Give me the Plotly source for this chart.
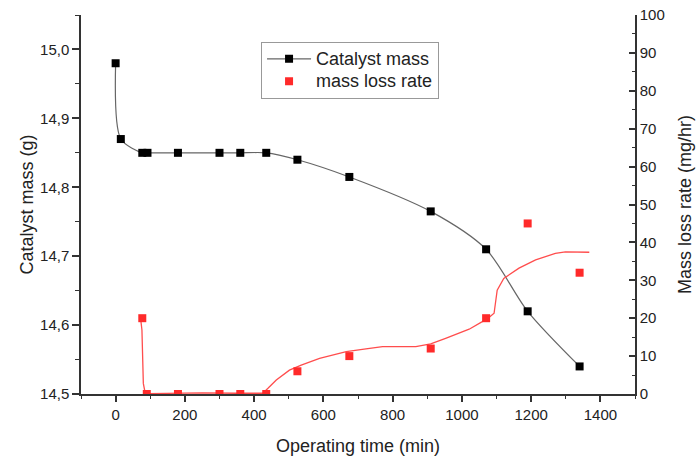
import plotly.graph_objects as go

# Catalyst mass data (left axis)
time_min = [0, 15, 77, 92, 180, 300, 360, 435, 525, 675, 910, 1070, 1190, 1340]
catalyst_mass = [14.98, 14.87, 14.85, 14.85, 14.85, 14.85, 14.85, 14.85, 14.84, 14.815, 14.765, 14.71, 14.62, 14.54]

# Mass loss rate data (right axis)
rate_time = [77, 90, 180, 300, 360, 435, 525, 675, 910, 1070, 1190, 1340]
rate_vals = [20, 0, 0, 0, 0, 0, 6, 10, 12, 20, 45, 32]

# Smoothed red curve
curve_time = [72, 76, 80, 85, 95, 150, 250, 350, 425, 440, 464, 502, 536, 589, 627, 666,
              723, 771, 867, 910, 953, 1021, 1059, 1080, 1093, 1102, 1121, 1165, 1213, 1270, 1299, 1368]
curve_vals = [20, 16.9, 2.8, 0.4, 0.1, 0.2, 0.3, 0.2, 0.2, 1.5, 3.7, 6.3, 7.6, 9.4, 10.3, 11.2,
              11.9, 12.5, 12.5, 13.2, 14.7, 17.1, 19.1, 20.3, 21.3, 27.4, 30.5, 33.2, 35.4, 37.1, 37.5, 37.4]

FONT = "Liberation Sans, Arial, sans-serif"
RED = "#ff2a2a"

fig = go.Figure()

fig.add_trace(go.Scatter(
    x=curve_time, y=curve_vals, yaxis="y2", mode="lines",
    line=dict(color="#ff4d4d", width=1.3), showlegend=False, hoverinfo="skip"))

fig.add_trace(go.Scatter(
    x=time_min, y=catalyst_mass, mode="lines+markers",
    name="<span style='font-size:18px'>Catalyst mass</span>",
    line=dict(color="#666666", width=1.2, shape="spline", smoothing=0.8),
    marker=dict(symbol="square", size=8, color="black")))

fig.add_trace(go.Scatter(
    x=rate_time, y=rate_vals, yaxis="y2", mode="markers",
    name="<span style='font-size:18px'>mass loss rate</span>",
    marker=dict(symbol="square", size=8, color=RED)))

axis_common = dict(showgrid=False, zeroline=False, showline=True, linecolor="#333333",
                   linewidth=1.5, tickcolor="#333333", tickwidth=1.5, automargin=False,
                   ticklabeloverflow="allow",
                   tickfont=dict(family=FONT, size=15, color="#222222"))

fig.update_layout(
    width=699, height=458,
    margin=dict(l=81, r=64, t=15, b=64),
    paper_bgcolor="white", plot_bgcolor="white",
    separators=", ",
    font=dict(family=FONT, color="#222222"),
    xaxis=dict(range=[-100, 1500], dtick=200, tick0=0, ticks="outside", ticklen=6,
               minor=dict(dtick=100, ticks="outside", ticklen=3, tickcolor="#333333", tickwidth=1.2),
               title=dict(text="Operating time (min)", font=dict(family=FONT, size=18), standoff=18),
               **axis_common),
    yaxis=dict(range=[14.5, 15.05], dtick=0.1, tick0=14.5, ticks="outside", ticklen=7,
               tickformat=".1f",
               minor=dict(dtick=0.05, ticks="outside", ticklen=4, tickcolor="#333333", tickwidth=1.2),
               title=dict(text="Catalyst mass (g)", font=dict(family=FONT, size=18), standoff=2),
               **axis_common),
    yaxis2=dict(range=[0, 100], dtick=10, tick0=0, overlaying="y", side="right",
                ticks="inside", ticklen=6,
                minor=dict(dtick=5, ticks="inside", ticklen=3, tickcolor="#333333", tickwidth=1.2),
                title=dict(text="Mass loss rate (mg/hr)", font=dict(family=FONT, size=18), standoff=15),
                **axis_common),
    legend=dict(x=0.325, y=0.93, xanchor="left", yanchor="top",
                bgcolor="white", bordercolor="#999999", borderwidth=1,
                font=dict(family=FONT, size=15, color="#222222"),
                tracegroupgap=0, itemwidth=44),
)

# remove the page's default body margin so the figure sits at the window origin
fig.write_html("out.html", config={"displayModeBar": False},
               post_script="document.body.style.margin='0';")
